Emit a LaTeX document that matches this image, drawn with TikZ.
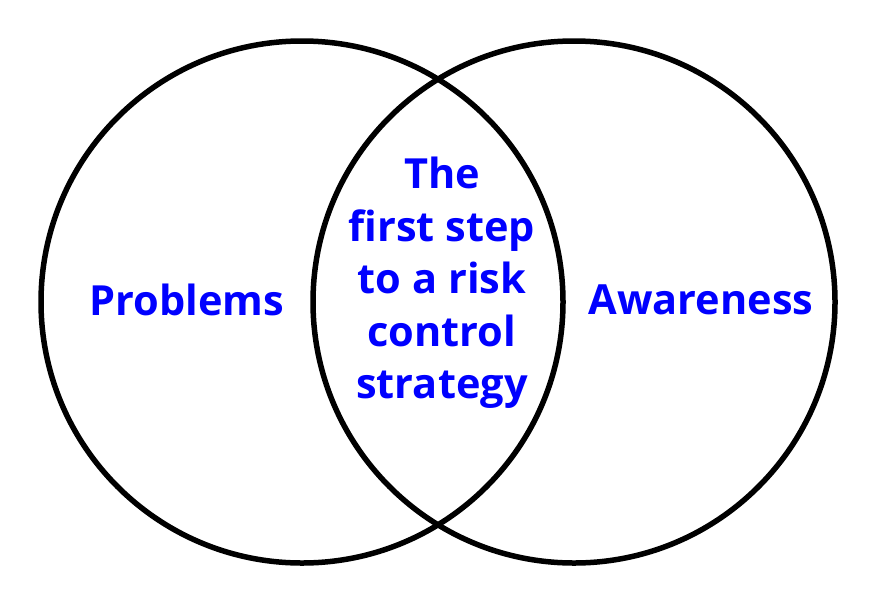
\documentclass[tikz,border=0pt]{standalone}
\usepackage{fontspec}
\setmainfont{Open Sans}[BoldFont={Open Sans Bold}]
\begin{document}
\begin{tikzpicture}[x=1pt,y=-1pt,
  ring/.style={draw=black,line width=5.5pt},
  lbl/.style={text=blue,font=\fontsize{41.5}{52.5}\selectfont\bfseries,align=center,inner sep=0pt}]
\useasboundingbox (0,0) rectangle (877,600);
\fill[white] (0,0) rectangle (877,600);
\node[ring,circle,minimum size=522pt,inner sep=0pt] (L) at (302,302) {};
\node[ring,circle,minimum size=522pt,inner sep=0pt] (R) at (574,302) {};
\node[lbl] (p) at (187,300) {Problems};
\node[lbl] (a) at (701,300) {Awareness};
\node[lbl] (c) at (442,283) {The\\first step\\to a risk\\control\\strategy};
\end{tikzpicture}
\end{document}
